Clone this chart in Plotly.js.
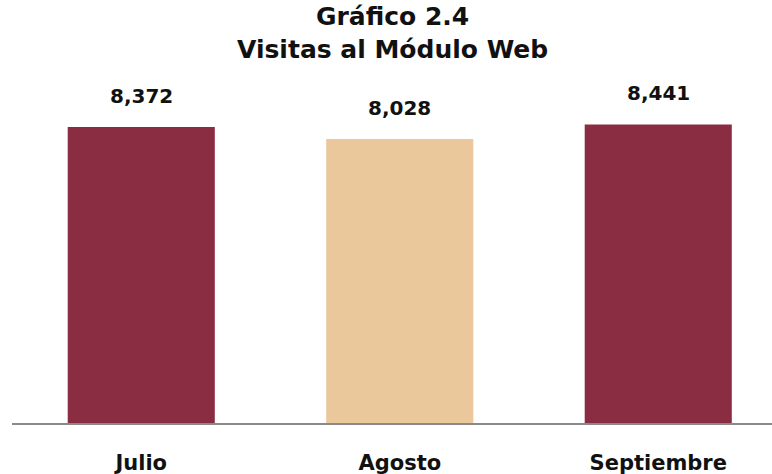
<!DOCTYPE html>
<html>
<head>
<meta charset="utf-8">
<script src="https://cdn.plot.ly/plotly-3.0.1.min.js"></script>
<style>html,body{margin:0;padding:0;background:#fff;}#chart{width:772px;height:474px;}</style>
</head>
<body>
<div id="chart"></div>
<script>
const categories = ["Julio", "Agosto", "Septiembre"];
const visits = [8372, 8028, 8441];
const valueLabels = ["8,372", "8,028", "8,441"];
const barColors = ["#8B2D42", "#EBC89C", "#8B2D42"];
const titleLines = ["Gráfico 2.4", "Visitas al Módulo Web"];

const font = "DejaVu Sans, Arial, sans-serif";

const trace = {
  type: "bar",
  x: categories,
  y: visits,
  marker: { color: barColors, line: { width: 0 } },
  hoverinfo: "none"
};

const annotations = categories.map((c, i) => ({
  x: c, y: visits[i], xref: "x", yref: "y",
  text: "<b>" + valueLabels[i] + "</b>",
  showarrow: false, yanchor: "bottom", yshift: 17,
  font: { family: font, size: 20, color: "#111" }
}));

annotations.push({
  x: 0.5, xref: "paper", xanchor: "center",
  y: 1, yref: "paper", yanchor: "middle", yshift: 37,
  text: "<b>" + titleLines.join("<br>") + "</b>",
  showarrow: false,
  font: { family: font, size: 25, color: "#111" }
});

const layout = {
  width: 772, height: 474,
  margin: { l: 12, r: 0, t: 70, b: 51 },
  paper_bgcolor: "#fff", plot_bgcolor: "#fff",
  bargap: 0.431,
  showlegend: false,
  xaxis: {
    range: [-0.5, 2.44],
    showline: true, linecolor: "#8a8a8a", linewidth: 1.5,
    showgrid: false, zeroline: false, ticks: "",
    ticklabelstandoff: 20,
    tickfont: { family: font, size: 21, color: "#111", weight: "bold" },
    fixedrange: true
  },
  yaxis: {
    range: [0, 9980],
    visible: false, showgrid: false, zeroline: false, fixedrange: true
  },
  annotations: annotations
};

Plotly.newPlot("chart", [trace], layout, { staticPlot: true, displayModeBar: false });
</script>
</body>
</html>
